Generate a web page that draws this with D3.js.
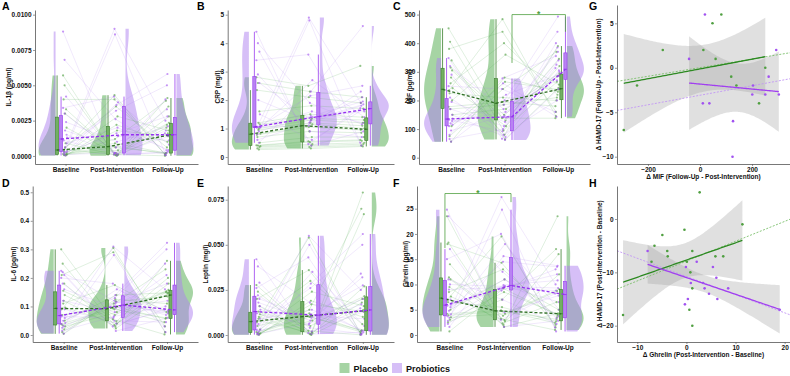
<!DOCTYPE html>
<html><head><meta charset="utf-8">
<script src="https://cdn.jsdelivr.net/npm/d3@7"></script>
<style>
body{margin:0;background:#fff}
svg text{font-family:"Liberation Sans",Arial,sans-serif;font-weight:bold}
</style></head><body>
<script>
const timepoints = ["Baseline", "Post-Intervention", "Follow-Up"]
const groups = ["Placebo", "Probiotics"]

// one array per time point, subjects kept in the same order
const il1bPlacebo = [
  [0.00013, 0.0020, 0.00003, 0.0050, 0.0004, 0.0001, 0.0033, 0.0006, 0.00005, 0.0057, 0.0002, 0.0009, 0.00011, 0.0040, 0.00044, 0.00008, 0.0030, 0.0003],
  [0.00072, 0.0001, 0.0022, 0.00006, 0.0043, 0.0004, 0.00002, 0.0035, 0.0012, 0.00011, 0.0028, 0.00004, 0.0006, 0.0040, 0.00008, 0.0018, 0.0002, 0.0009],
  [0.00015, 0.0035, 0.0010, 0.0020, 0.00005, 0.00235, 0.0016, 0.0006, 0.0039, 0.00001, 0.0018, 0.0041, 0.00021, 0.0001, 0.0028, 0.0014, 0.0022, 0.0002]]
const il1bProbiotics = [
  [0.0018, 0.0002, 0.0088, 0.0009, 0.00003, 0.0030, 0.0003, 0.0013, 0.0042, 0.0006, 0.0001, 0.0034, 0.0015, 0.00025, 0.0068, 0.0011, 0.00032, 0.0024],
  [0.0006, 0.0086, 0.0001, 0.0020, 0.0036, 0.00018, 0.0090, 0.0014, 0.00005, 0.0032, 0.00022, 0.0042, 0.00015, 0.0016, 0.0026, 0.0002, 0.0038, 0.0010],
  [0.0033, 0.00005, 0.0016, 0.00042, 0.0058, 0.0002, 0.0025, 0.0011, 0.0003, 0.0050, 0.0018, 0.0001, 0.0014, 0.0028, 0.0004, 0.0040, 0.0008, 0.0021]]

const crpPlacebo = [
  [0.41, 1.15, 0.26, 2.6, 0.78, 0.38, 1.6, 0.95, 0.3, 2.8, 0.5, 1.0, 0.4, 2.35, 0.82, 0.35, 1.2, 0.7],
  [0.55, 1.35, 0.3, 2.3, 1.05, 0.45, 1.8, 1.2, 0.35, 2.5, 0.7, 1.3, 0.52, 2.1, 1.15, 0.4, 1.5, 0.9],
  [0.6, 1.3, 0.37, 2.1, 0.95, 0.5, 1.7, 1.1, 0.4, 3.2, 0.7, 1.2, 0.57, 1.9, 1.0, 0.45, 1.4, 0.85]]
const crpProbiotics = [
  [2.0, 0.8, 4.4, 1.05, 0.5, 2.9, 1.03, 1.06, 3.7, 1.05, 0.6, 3.4, 1.5, 0.9, 4.0, 1.05, 1.04, 2.6],
  [1.25, 4.8, 0.45, 1.6, 2.3, 0.9, 4.9, 1.4, 0.4, 2.15, 1.2, 3.6, 0.6, 1.44, 1.9, 1.1, 2.7, 1.3],
  [2.1, 0.4, 1.72, 1.2, 4.6, 0.7, 1.9, 1.6, 0.9, 2.5, 1.8, 0.5, 1.68, 1.95, 1.15, 2.3, 1.4, 1.85]]

const mifPlacebo = [
  [178, 305, 56, 405, 235, 150, 340, 260, 75, 452, 200, 280, 170, 380, 243, 110, 315, 225],
  [195, 130, 280, 95, 484, 170, 64, 400, 240, 138, 360, 80, 185, 440, 110, 265, 150, 210],
  [180, 345, 230, 265, 145, 295, 244, 220, 370, 138, 255, 390, 210, 160, 320, 238, 285, 200]]
const mifProbiotics = [
  [170, 80, 348, 128, 56, 210, 110, 137, 290, 120, 65, 250, 150, 95, 320, 133, 115, 195],
  [110, 260, 66, 160, 200, 80, 277, 140, 62, 185, 100, 240, 72, 146, 170, 92, 220, 125],
  [385, 143, 313, 285, 493, 200, 355, 300, 240, 440, 325, 160, 305, 370, 270, 400, 290, 340]]

const il6Placebo = [
  [0.038, 0.14, 0.004, 0.25, 0.09, 0.03, 0.18, 0.11, 0.01, 0.30, 0.05, 0.12, 0.034, 0.21, 0.096, 0.02, 0.155, 0.07],
  [0.094, 0.048, 0.125, 0.035, 0.305, 0.08, 0.023, 0.175, 0.11, 0.055, 0.14, 0.03, 0.09, 0.29, 0.04, 0.118, 0.07, 0.1],
  [0.045, 0.2, 0.11, 0.15, 0.01, 0.158, 0.145, 0.08, 0.23, 0.002, 0.148, 0.26, 0.06, 0.03, 0.18, 0.135, 0.153, 0.057]]
const il6Probiotics = [
  [0.12, 0.025, 0.225, 0.06, 0.005, 0.18, 0.038, 0.071, 0.21, 0.05, 0.015, 0.2, 0.09, 0.03, 0.22, 0.065, 0.042, 0.16],
  [0.08, 0.28, 0.03, 0.115, 0.14, 0.05, 0.31, 0.1, 0.014, 0.13, 0.065, 0.18, 0.04, 0.11, 0.12, 0.06, 0.16, 0.095],
  [0.21, 0.01, 0.09, 0.075, 0.323, 0.045, 0.16, 0.083, 0.06, 0.3, 0.1, 0.03, 0.086, 0.18, 0.07, 0.25, 0.08, 0.12]]

const leptinPlacebo = [
  [0.0016, 0.0115, 0.0001, 0.024, 0.007, 0.0009, 0.016, 0.009, 0.0003, 0.0277, 0.003, 0.010, 0.0012, 0.020, 0.0078, 0.0006, 0.013, 0.005],
  [0.0104, 0.0016, 0.019, 0.0005, 0.054, 0.008, 0.0001, 0.030, 0.014, 0.0023, 0.024, 0.0003, 0.010, 0.036, 0.001, 0.017, 0.005, 0.012],
  [0.0018, 0.067, 0.010, 0.018, 0.0005, 0.0215, 0.014, 0.006, 0.070, 0.0001, 0.016, 0.079, 0.0026, 0.001, 0.027, 0.013, 0.020, 0.0023]]
const leptinProbiotics = [
  [0.018, 0.001, 0.042, 0.009, 0.0002, 0.022, 0.0027, 0.014, 0.029, 0.006, 0.0005, 0.026, 0.016, 0.002, 0.038, 0.012, 0.003, 0.020],
  [0.008, 0.050, 0.001, 0.014, 0.0285, 0.004, 0.055, 0.0105, 0.0005, 0.026, 0.0065, 0.043, 0.002, 0.0115, 0.018, 0.0058, 0.035, 0.0095],
  [0.032, 0.0001, 0.0148, 0.0025, 0.056, 0.0008, 0.025, 0.009, 0.0015, 0.050, 0.017, 0.0004, 0.013, 0.0275, 0.0021, 0.034, 0.005, 0.020]]

const ghrelinPlacebo = [
  [4.2, 11, 0.7, 18.3, 7, 3.5, 14, 8.5, 2.5, 23.5, 5, 9.5, 3.9, 18, 7.6, 3, 11.4, 6.5],
  [4.9, 2.95, 9.2, 2.3, 19.5, 4.2, 1.6, 13, 7, 3.2, 11, 2.0, 4.7, 14.3, 2.7, 8.5, 3.8, 5.5],
  [2.4, 16, 3.9, 6.5, 1.5, 9.1, 4.3, 3.5, 17, 1.0, 5, 23.5, 3.1, 2.0, 12, 4.1, 8.7, 2.7]]
const ghrelinProbiotics = [
  [9, 2.8, 24.8, 5.5, 1.6, 11, 3.7, 6.0, 17, 4.8, 2.2, 15, 7, 3.4, 23.5, 5.8, 4.1, 10],
  [9.4, 24.8, 3, 11, 15.6, 7, 27.3, 9.7, 1.6, 14.5, 9.2, 20, 4.5, 9.9, 12.5, 8.8, 18, 9.6],
  [12, 0.7, 8.2, 3.7, 13.7, 2.2, 10, 6.5, 2.8, 13.5, 8.8, 1.5, 7.8, 10.8, 3.3, 13, 5, 9.3]]

// significance brackets: [from time, to time, top, left end, right end]
const mifBracket = [1, 2, 500, 331, 440]
const ghrelinBracket = [0, 1, 28, 17.2, 26.3]

// tick labels
const il1bTicks = [0, 0.0025, 0.005, 0.0075, 0.01]
const crpTicks = [0, 1, 2, 3, 4, 5]
const mifTicks = [0, 100, 200, 300, 400, 500]
const il6Ticks = [0, 0.1, 0.2, 0.3, 0.4, 0.5]
const leptinTicks = [0, 0.025, 0.05, 0.075]
const ghrelinTicks = [0, 5, 10, 15, 20, 25]

// change scores for the correlation panels
const dMifPlacebo = [-293, -242, -143, 13, 48, 60, 82, 120, 140, 227, 251]
const dHamdGPlacebo = [-7, -2, 2, 2, 5, 1, 6, -1, -2, -4, 0]
const dMifProbiotics = [-42, 19, 11, 36, 127, 125, 204, 201, 251, 264, 293, 303]
const dHamdGProbiotics = [1, 6, -4, -4, -6, -10, -2, -3, -3, -1, 2, -3]
const dGhrelinPlacebo = [-12.9, -6.5, -7.1, -4.9, -3.9, -3.8, -0.4, 0.1, 0.8, 1.2, 1.2, 0.6, 1.2, 2.7, 5.9, 7.5, 11.4]
const dHamdHPlacebo = [-18, -5, -8, -3, -6, -7, -2, -8, -10, -6, -13, -17, -20, 5, -7, -7, -1]
const dGhrelinProbiotics = [-7.9, -0.1, 2.1, 0.9, 3.7, 3.4, 5.4, 6.1, 4.6, 6.3, 8.5, 0.3, -0.3, 19]
const dHamdHProbiotics = [-6, -9, -8, -12, -13, -12, -9, -11, -14, -15, -13, -15, -16, -17]
// dotted reference lines [intercept, slope]
const gDotted = {Placebo: [0.015, 0.00484], Probiotics: [-3.09, 0.00536]}
const hDotted = {Placebo: [-7.89, 0.372], Probiotics: [-10.77, -0.341]}

const W = 790, H = 376
const svg = d3.select('body').append('svg').attr('width', W).attr('height', H)

const col = {
  Placebo: {fill: '#4daa4a', dark: '#3b7f2d', box: '#72b063', pt: '#4f9f40', dash: '#2f6f25', line: '#2d8a22', dot: '#7cc06c'},
  Probiotics: {fill: '#ad7fef', dark: '#9a3ff0', box: '#b883f2', pt: '#a152f0', dash: '#9430f0', line: '#a13ff0', dot: '#c296f5'}
}
const rows = [[10, 164], [186, 342]]
// [box offset, violin edge offset, violin direction]
const place = {
  Placebo: [[-8.5, -10, -1], [-8.5, -10, -1], [3.5, 9, 1]],
  Probiotics: [[-4.5, -10, -1], [7.5, 9, 1], [7.5, 9, 1]]
}
const jit = (s, gi) => ((s * 7 + gi * 4) % 9 - 4) * 0.5 - 0.5

function kde(vals) {
  const s = vals.slice().sort(d3.ascending), n = s.length
  const iqr = d3.quantile(s, 0.75) - d3.quantile(s, 0.25)
  const bw = 0.9 * Math.min(d3.deviation(s), iqr / 1.34) * Math.pow(n, -0.2)
  const lo = s[0], hi = s[n - 1]
  return d3.range(61).map(i => {
    const v = lo + (hi - lo) * i / 60
    return {v, d: d3.mean(s, x => Math.exp(-0.5 * ((v - x) / bw) ** 2))}
  })
}

function boxStats(vals) {
  const s = vals.slice().sort(d3.ascending)
  const q1 = d3.quantile(s, 0.25), med = d3.quantile(s, 0.5), q3 = d3.quantile(s, 0.75)
  const iqr = q3 - q1
  const lo = d3.min(s.filter(v => v >= q1 - 1.5 * iqr)), hi = d3.max(s.filter(v => v <= q3 + 1.5 * iqr))
  return {q1, med, q3, lo, hi}
}

function styleAxis(a) {
  a.select('.domain').attr('stroke', '#555').attr('stroke-width', 0.8)
  a.selectAll('.tick line').attr('stroke', '#555').attr('stroke-width', 0.6)
  a.selectAll('.tick text').attr('font-size', 6.5).attr('fill', '#111')
}

function letter(t, x, y) {
  svg.append('text').attr('x', x).attr('y', y).attr('font-size', 10.5).attr('fill', '#000').text(t)
}

function yTitle(t, x, yc) {
  svg.append('text').attr('transform', `translate(${x},${yc}) rotate(-90)`)
    .attr('text-anchor', 'middle').attr('dominant-baseline', 'central')
    .attr('font-size', 6.5).attr('fill', '#111').text(t)
}

function raincloud(p) {
  const [yT, yB] = rows[p.row]
  const x = d3.scalePoint().domain(timepoints).range([p.x0, p.x1]).padding(0.6)
  const y = d3.scaleLinear().domain(p.dom).range([yB, yT])
  const sets = {Placebo: p.pl, Probiotics: p.pr}
  const g = svg.append('g')

  groups.forEach(grp => {
    sets[grp].forEach((vals, t) => {
      const [bo, vo, dir] = place[grp][t]
      const base = x(timepoints[t]) + vo
      const k = kde(vals), dm = d3.max(k, d => d.d)
      g.append('path').datum(k)
        .attr('d', d3.area().y(d => y(d.v)).x0(base).x1(d => base + dir * 17 * d.d / dm))
        .attr('fill', col[grp].fill).attr('fill-opacity', 0.5)
    })
  })

  groups.forEach((grp, gi) => {
    const v = sets[grp]
    v[0].forEach((_, s) => {
      g.append('path').datum([0, 1, 2])
        .attr('d', d3.line().x(t => x(timepoints[t]) + jit(s, gi)).y(t => y(v[t][s])))
        .attr('fill', 'none').attr('stroke', col[grp].fill).attr('stroke-opacity', 0.35).attr('stroke-width', 0.5)
    })
  })

  groups.forEach((grp, gi) => {
    sets[grp].forEach((vals, t) => {
      g.selectAll(null).data(vals).enter().append('circle')
        .attr('cx', (d, s) => x(timepoints[t]) + jit(s, gi)).attr('cy', d => y(d)).attr('r', 1.1)
        .attr('fill', col[grp].pt).attr('fill-opacity', 0.6)
    })
  })

  groups.forEach(grp => {
    const meds = []
    sets[grp].forEach((vals, t) => {
      const b = boxStats(vals), bx = x(timepoints[t]) + place[grp][t][0]
      meds.push([bx, b.med])
      g.append('line').attr('x1', bx).attr('x2', bx).attr('y1', y(b.hi)).attr('y2', y(b.lo))
        .attr('stroke', col[grp].dark).attr('stroke-width', 0.8)
      g.append('rect').attr('x', bx - 1.6).attr('width', 3.2).attr('y', y(b.q3)).attr('height', y(b.q1) - y(b.q3))
        .attr('fill', col[grp].box).attr('stroke', col[grp].dark).attr('stroke-width', 0.6)
      g.append('line').attr('x1', bx - 1.6).attr('x2', bx + 1.6).attr('y1', y(b.med)).attr('y2', y(b.med))
        .attr('stroke', col[grp].dark).attr('stroke-width', 1)
    })
    g.append('path').datum(meds).attr('d', d3.line().x(d => d[0]).y(d => y(d[1])))
      .attr('fill', 'none').attr('stroke', col[grp].dash).attr('stroke-width', 1.3).attr('stroke-dasharray', '3,2')
  })

  if (p.bracket) {
    const [t0, t1, top, l, r] = p.bracket
    const xa = x(timepoints[t0]) + place.Probiotics[t0][0], xb = x(timepoints[t1]) + place.Probiotics[t1][0]
    g.append('path').attr('d', `M${xa},${y(l)}V${y(top)}H${xb}V${y(r)}`)
      .attr('fill', 'none').attr('stroke', '#4f9f40').attr('stroke-width', 0.8)
    g.append('text').attr('x', (xa + xb) / 2).attr('y', y(top) + 2).attr('text-anchor', 'middle')
      .attr('font-size', 8.5).attr('fill', '#4f9f40').text('*')
  }

  const ya = svg.append('g').attr('transform', `translate(${p.x0},0)`)
    .call(d3.axisLeft(y).tickValues(p.ticks).tickFormat(d3.format(p.fmt)).tickSize(2).tickSizeOuter(0).tickPadding(1.5))
  styleAxis(ya)
  const xa = svg.append('g').attr('transform', `translate(0,${yB})`)
    .call(d3.axisBottom(x).tickSize(2).tickSizeOuter(0).tickPadding(1.5))
  styleAxis(xa)
  letter(p.id, p.lx, p.row ? 187 : 10)
  yTitle(p.title, p.tx, (yT + yB) / 2)
}

function tq(df) {
  const z = 1.959964
  return z + (z ** 3 + z) / (4 * df) + (5 * z ** 5 + 16 * z ** 3 + 3 * z) / (96 * df * df)
}

function scatter(p) {
  const [yT, yB] = p.yr
  const x = d3.scaleLinear().domain(p.xdom).range([617, 790])
  const y = d3.scaleLinear().domain(p.ydom).range([yB, yT])
  const g = svg.append('g')
  const fits = {}
  groups.forEach(grp => {
    const xs = p.data[grp][0], ys = p.data[grp][1], n = xs.length
    const mx = d3.mean(xs), my = d3.mean(ys)
    const sxx = d3.sum(xs, v => (v - mx) ** 2)
    const b = d3.sum(xs, (v, i) => (v - mx) * (ys[i] - my)) / sxx, a = my - b * mx
    const s = Math.sqrt(d3.sum(xs, (v, i) => (ys[i] - a - b * v) ** 2) / (n - 2)), t = tq(n - 2)
    const [lo, hi] = d3.extent(xs)
    const pts = d3.range(81).map(i => {
      const xv = lo + (hi - lo) * i / 80, se = s * Math.sqrt(1 / n + (xv - mx) ** 2 / sxx)
      return {x: xv, f: a + b * xv, lo: a + b * xv - t * se, hi: a + b * xv + t * se}
    })
    fits[grp] = pts
    g.append('path').datum(pts).attr('d', d3.area().x(d => x(d.x)).y0(d => y(d.lo)).y1(d => y(d.hi)))
      .attr('fill', '#a0a0a0').attr('fill-opacity', 0.32)
  })
  groups.forEach(grp => {
    const [a, b] = p.dotted[grp]
    g.append('line').attr('x1', x(p.xdom[0])).attr('x2', x(p.xdom[1]))
      .attr('y1', y(a + b * p.xdom[0])).attr('y2', y(a + b * p.xdom[1]))
      .attr('stroke', col[grp].dot).attr('stroke-width', 0.9).attr('stroke-dasharray', '2,1.5')
  })
  groups.forEach(grp => {
    g.append('path').datum(fits[grp]).attr('d', d3.line().x(d => x(d.x)).y(d => y(d.f)))
      .attr('fill', 'none').attr('stroke', col[grp].line).attr('stroke-width', 1.3)
  })
  groups.forEach(grp => {
    const xs = p.data[grp][0], ys = p.data[grp][1]
    g.selectAll(null).data(xs).enter().append('circle')
      .attr('cx', d => x(d)).attr('cy', (d, i) => y(ys[i])).attr('r', 1.3).attr('fill', col[grp].pt)
  })
  const ya = svg.append('g').attr('transform', 'translate(617,0)')
    .call(d3.axisLeft(y).tickValues(p.yticks).tickSize(2).tickSizeOuter(0).tickPadding(1.5))
  styleAxis(ya)
  const xa = svg.append('g').attr('transform', `translate(0,${yB})`)
    .call(d3.axisBottom(x).tickValues(p.xticks).tickSize(2).tickSizeOuter(0).tickPadding(1.5))
  styleAxis(xa)
  letter(p.id, 589, p.ly)
  yTitle(p.ytitle, p.tx, (yT + yB) / 2)
  svg.append('text').attr('x', 703.5).attr('y', yB + 15).attr('text-anchor', 'middle')
    .attr('font-size', 6.5).attr('fill', '#111').text(p.xtitle)
}

raincloud({id: 'A', title: 'IL-1β (pg/ml)', pl: il1bPlacebo, pr: il1bProbiotics, ticks: il1bTicks, fmt: '.4f',
  x0: 35, x1: 198, row: 0, dom: [-0.00057, 0.01033], lx: 2, tx: 8})
raincloud({id: 'B', title: 'CRP (mg/l)', pl: crpPlacebo, pr: crpProbiotics, ticks: crpTicks, fmt: 'd',
  x0: 227.7, x1: 394, row: 0, dom: [-0.246, 5.165], lx: 197, tx: 217.8})
raincloud({id: 'C', title: 'MIF (pg/ml)', pl: mifPlacebo, pr: mifProbiotics, ticks: mifTicks, fmt: 'd',
  x0: 419, x1: 590, row: 0, dom: [-22, 516], lx: 393, tx: 409, bracket: mifBracket})
raincloud({id: 'D', title: 'IL-6 (pg/ml)', pl: il6Placebo, pr: il6Probiotics, ticks: il6Ticks, fmt: '.1f',
  x0: 32.7, x1: 198, row: 1, dom: [-0.0245, 0.522], lx: 2, tx: 13.5})
raincloud({id: 'E', title: 'Leptin (mg/l)', pl: leptinPlacebo, pr: leptinProbiotics, ticks: leptinTicks, fmt: '.3f',
  x0: 227.7, x1: 394, row: 1, dom: [-0.00388, 0.0826], lx: 197, tx: 205})
raincloud({id: 'F', title: 'Ghrelin (pg/ml)', pl: ghrelinPlacebo, pr: ghrelinProbiotics, ticks: ghrelinTicks, fmt: 'd',
  x0: 417, x1: 590, row: 1, dom: [-1.386, 29.49], lx: 393, tx: 405, bracket: ghrelinBracket})

scatter({id: 'G', yr: [5, 164], ly: 10, xdom: [-319, 346], ydom: [-10.82, 7.06], xticks: [-200, 0, 200], yticks: [-10, -5, 0, 5],
  data: {Placebo: [dMifPlacebo, dHamdGPlacebo], Probiotics: [dMifProbiotics, dHamdGProbiotics]}, dotted: gDotted,
  ytitle: 'Δ HAMD-17 (Follow-Up - Post-Intervention)', xtitle: 'Δ MIF (Follow-Up - Post-Intervention)', tx: 598.7})
scatter({id: 'H', yr: [186, 342], ly: 187, xdom: [-14.13, 21.09], ydom: [-23.06, 6.19], xticks: [-10, 0, 10, 20], yticks: [-20, -10, 0],
  data: {Placebo: [dGhrelinPlacebo, dHamdHPlacebo], Probiotics: [dGhrelinProbiotics, dHamdHProbiotics]}, dotted: hDotted,
  ytitle: 'Δ HAMD-17 (Post-Intervention - Baseline)', xtitle: 'Δ Ghrelin (Post-Intervention - Baseline)', tx: 599})

// legend
const leg = svg.append('g')
const legX = [339.5, 392]
groups.forEach((grp, i) => {
  leg.append('rect').attr('x', legX[i]).attr('y', 363).attr('width', 10).attr('height', 10)
    .attr('fill', col[grp].fill).attr('fill-opacity', 0.5)
  leg.append('text').attr('x', legX[i] + 14).attr('y', 371.5).attr('font-size', 9).attr('fill', '#111').text(grp)
})
</script>
</body></html>
